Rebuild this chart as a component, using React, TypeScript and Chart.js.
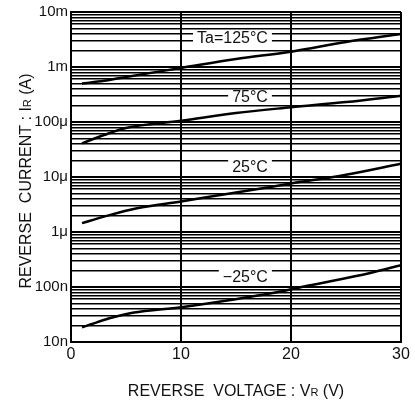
import React, { useEffect, useRef } from 'react';
import { Chart, registerables } from 'chart.js';

Chart.register(...registerables);

// Reverse voltage (V) and reverse current (A) for each ambient temperature
const v125 = [1, 3, 5, 10, 15, 20, 25, 30];
const i125 = [5.0e-4, 5.6e-4, 6.6e-4, 9.6e-4, 1.4e-3, 1.9e-3, 2.85e-3, 4.0e-3];

const v75 = [1, 3, 5, 10, 15, 20, 25, 30];
const i75 = [4.1e-5, 5.8e-5, 7.8e-5, 1.05e-4, 1.46e-4, 1.85e-4, 2.3e-4, 3.0e-4];

const v25 = [1, 3, 6, 10, 13, 16, 20, 25, 30];
const i25 = [1.45e-6, 1.9e-6, 2.7e-6, 3.6e-6, 4.5e-6, 5.6e-6, 7.6e-6, 1.1e-5, 1.75e-5];

const vm25 = [1, 2.4, 3.5, 5.6, 10, 14.5, 18.7, 21.5, 27.2, 30];
const im25 = [1.85e-8, 2.3e-8, 2.7e-8, 3.4e-8, 4.3e-8, 5.8e-8, 8.0e-8, 1.05e-7, 1.8e-7, 2.5e-7];

const curveLabels = ['Ta=125°C', '75°C', '25°C', '−25°C'];
const curveLabelV = [17.9, 17.9, 17.9, 17.9];
const curveLabelI = [3.37e-3, 2.85e-4, 1.52e-5, 1.52e-7];

const decadeExps = [-8, -7, -6, -5, -4, -3, -2];
const decadeLabels = ['10n', '100n', '1μ', '10μ', '100μ', '1m', '10m'];
const minorMultipliers = [1, 2, 3, 4, 5, 6, 7, 8, 9];

const xTicks = [0, 10, 20, 30];

const xTitleParts = [
  { t: 'REVERSE  VOLTAGE : V', s: 16 },
  { t: 'R', s: 11 },
  { t: ' (V)', s: 16 },
];
const yTitleParts = [
  { t: 'REVERSE  CURRENT : I', s: 16 },
  { t: 'R', s: 11 },
  { t: ' (A)', s: 16 },
];

const FONT = '"Liberation Sans", Arial, Helvetica, sans-serif';
const INK = '#111';

function buildYTicks(): number[] {
  const out: number[] = [];
  decadeExps.forEach((e, idx) => {
    if (idx === decadeExps.length - 1) {
      out.push(Math.pow(10, e));
    } else {
      minorMultipliers.forEach((m) => out.push(m * Math.pow(10, e)));
    }
  });
  return out;
}

function decadeIndex(v: number): number {
  const l = Math.log10(v);
  for (let i = 0; i < decadeExps.length; i++) {
    if (Math.abs(l - decadeExps[i]) < 1e-6) return i;
  }
  return -1;
}

function drawRich(ctx: CanvasRenderingContext2D, parts: { t: string; s: number }[], cx: number, cy: number, rot: number) {
  ctx.save();
  ctx.translate(cx, cy);
  ctx.rotate(rot);
  let total = 0;
  const widths = parts.map((p) => {
    ctx.font = `${p.s}px ${FONT}`;
    const w = ctx.measureText(p.t).width;
    total += w;
    return w;
  });
  let x = -total / 2;
  const baseline = 5.7;
  ctx.fillStyle = INK;
  ctx.textBaseline = 'alphabetic';
  ctx.textAlign = 'left';
  parts.forEach((p, i) => {
    ctx.font = `${p.s}px ${FONT}`;
    ctx.fillText(p.t, x, baseline);
    x += widths[i];
  });
  ctx.restore();
}

const annotPlugin = {
  id: 'annot',
  beforeDatasetsDraw(chart: any) {
    const { ctx, scales } = chart;
    const xs = scales.x;
    const ys = scales.y;
    ctx.save();
    ctx.font = `16px ${FONT}`;
    ctx.textBaseline = 'middle';
    ctx.textAlign = 'right';
    curveLabels.forEach((t, i) => {
      const px = xs.getPixelForValue(curveLabelV[i]);
      const py = ys.getPixelForValue(curveLabelI[i]);
      const w = ctx.measureText(t).width;
      ctx.fillStyle = '#fff';
      ctx.fillRect(px - w - 4, py - 7, w + 8, 14);
      ctx.fillStyle = INK;
      ctx.fillText(t, px, py + 1);
    });
    ctx.restore();
  },
  afterDraw(chart: any) {
    const { ctx, chartArea } = chart;
    drawRich(ctx, xTitleParts, (chartArea.left + chartArea.right) / 2, chartArea.bottom + 48, 0);
    drawRich(ctx, yTitleParts, chartArea.left - 46, (chartArea.top + chartArea.bottom) / 2 + 4, -Math.PI / 2);
  },
};

export default function App() {
  const ref = useRef<HTMLCanvasElement | null>(null);

  useEffect(() => {
    if (!ref.current) return;
    const yTicks = buildYTicks();
    const mk = (vs: number[], is: number[]) => vs.map((v, k) => ({ x: v, y: is[k] }));
    const dsBase = {
      borderColor: '#000',
      borderWidth: 2.5,
      pointRadius: 0,
      fill: false,
      cubicInterpolationMode: 'monotone' as const,
    };
    const chart = new Chart(ref.current, {
      type: 'line',
      data: {
        datasets: [
          { ...dsBase, label: curveLabels[0], data: mk(v125, i125) },
          { ...dsBase, label: curveLabels[1], data: mk(v75, i75) },
          { ...dsBase, label: curveLabels[2], data: mk(v25, i25) },
          { ...dsBase, label: curveLabels[3], data: mk(vm25, im25) },
        ],
      },
      options: {
        animation: false,
        responsive: false,
        maintainAspectRatio: false,
        layout: { padding: { top: 12, right: 14, left: 0, bottom: 0 } },
        plugins: { legend: { display: false }, tooltip: { enabled: false } },
        scales: {
          x: {
            type: 'linear',
            min: 0,
            max: 30,
            afterBuildTicks: (scale: any) => {
              scale.ticks = xTicks.map((v) => ({ value: v }));
            },
            afterFit: (scale: any) => {
              scale.height = 63;
              scale.paddingLeft = 0;
              scale.paddingRight = 0;
            },
            grid: { color: '#000', lineWidth: 2, drawTicks: false },
            border: { color: '#000', width: 2 },
            ticks: {
              autoSkip: false,
              padding: 3,
              color: INK,
              font: { family: FONT, size: 16 },
              maxRotation: 0,
            },
          },
          y: {
            type: 'logarithmic',
            min: 1e-8,
            max: 1e-2,
            afterBuildTicks: (scale: any) => {
              scale.ticks = yTicks.map((v) => ({ value: v }));
            },
            afterFit: (scale: any) => {
              scale.width = 71;
              scale.paddingTop = 0;
              scale.paddingBottom = 0;
            },
            grid: {
              color: '#000',
              drawTicks: false,
              lineWidth: (c: any) => (c.tick && decadeIndex(c.tick.value) >= 0 ? 2 : 1.5),
            },
            border: { color: '#000', width: 2 },
            ticks: {
              autoSkip: false,
              padding: 3,
              color: INK,
              font: { family: FONT, size: 15 },
              callback: (value: any) => {
                const d = decadeIndex(Number(value));
                return d >= 0 ? decadeLabels[d] : '';
              },
            },
          },
        },
      },
      plugins: [annotPlugin],
    } as any);
    return () => chart.destroy();
  }, []);

  return (
    <div style={{ position: 'absolute', left: 0, top: 0, width: 415, height: 405, background: '#fff' }}>
      <canvas ref={ref} width={415} height={405} style={{ width: 415, height: 405, display: 'block' }} />
    </div>
  );
}
